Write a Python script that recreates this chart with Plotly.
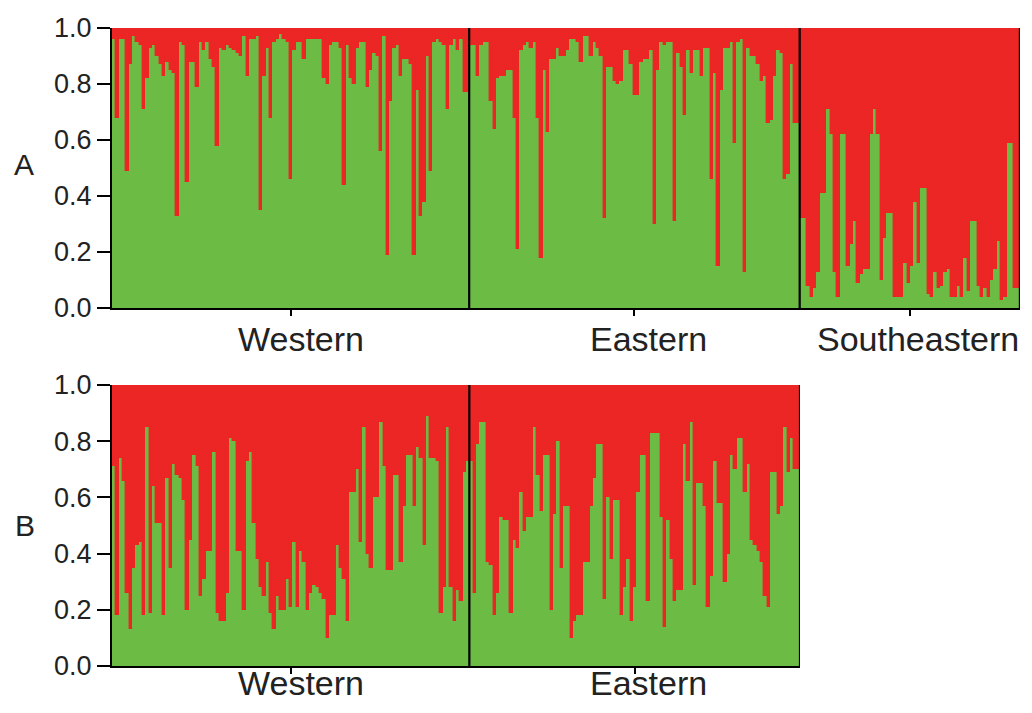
import plotly.graph_objects as go

# ---------------- data: membership coefficient of cluster 1 (green) ----------------
groups_A = ["Western", "Eastern", "Southeastern"]
groups_B = ["Western", "Eastern"]

A_western = [0.96, 0.68, 0.96, 0.96, 0.49, 0.87, 0.97, 0.95, 0.94, 0.71,
             0.82, 0.93, 0.94, 0.90, 0.87, 0.83, 0.88, 0.85, 0.84, 0.33,
             0.95, 0.94, 0.45, 0.88, 0.88, 0.79, 0.95, 0.92, 0.95, 0.89,
             0.86, 0.58, 0.93, 0.92, 0.94, 0.93, 0.92, 0.91, 0.90, 0.97,
             0.83, 0.96, 0.96, 0.97, 0.35, 0.83, 0.93, 0.68, 0.95, 0.96,
             0.98, 0.96, 0.95,
             0.46, 0.92, 0.95, 0.95, 0.89, 0.96, 0.96, 0.96, 0.96, 0.96,
             0.82, 0.80, 0.94, 0.95, 0.95, 0.93, 0.44, 0.94, 0.82, 0.80,
             0.93, 0.95, 0.95, 0.79, 0.85, 0.91, 0.90, 0.56, 0.97, 0.19,
             0.74, 0.93, 0.94, 0.83, 0.89, 0.89, 0.87, 0.19, 0.78, 0.33,
             0.38, 0.90, 0.49, 0.95, 0.96, 0.95, 0.94, 0.71, 0.94, 0.96,
             0.92, 0.96, 0.77, 0.77]
A_eastern = [0.94, 0.94, 0.83, 0.94, 0.95, 0.95, 0.74, 0.64, 0.82, 0.83,
             0.83, 0.85, 0.85, 0.68, 0.21, 0.92, 0.94, 0.95, 0.93, 0.95,
             0.68, 0.18, 0.85, 0.63, 0.89, 0.89, 0.93, 0.90, 0.90, 0.92,
             0.96, 0.96, 0.95, 0.88, 0.97, 0.97, 0.90, 0.95, 0.93, 0.90,
             0.32, 0.86, 0.86, 0.81, 0.80, 0.81, 0.92, 0.92, 0.87, 0.76,
             0.76,
             0.88, 0.89, 0.89, 0.92, 0.30, 0.85, 0.95, 0.94, 0.95, 0.95,
             0.31, 0.91, 0.86, 0.69, 0.92, 0.84, 0.92, 0.92, 0.83, 0.93,
             0.93, 0.46, 0.84, 0.15, 0.78, 0.93, 0.93, 0.95, 0.59, 0.95,
             0.96, 0.13, 0.93, 0.90, 0.90, 0.87, 0.81, 0.83, 0.66, 0.67,
             0.83, 0.92, 0.91, 0.46, 0.48, 0.87, 0.66, 0.66]
A_southeastern = [0.32, 0.32, 0.08, 0.04, 0.07, 0.13, 0.41, 0.41, 0.71, 0.62,
                  0.13, 0.04, 0.62, 0.62, 0.15, 0.23, 0.31, 0.09, 0.12, 0.14,
                  0.14, 0.62, 0.71, 0.62, 0.10, 0.25, 0.34, 0.34, 0.04, 0.04,
                  0.04, 0.16, 0.09, 0.15, 0.38, 0.16, 0.43, 0.43, 0.05, 0.04,
                  0.13, 0.07, 0.08, 0.13, 0.14, 0.04, 0.04, 0.08, 0.04, 0.18,
                  0.06, 0.31, 0.31, 0.08, 0.04, 0.07, 0.04, 0.10, 0.14, 0.24,
                  0.03, 0.04, 0.59, 0.59, 0.07, 0.07]

B_western = [0.71, 0.18, 0.74, 0.66, 0.26, 0.13, 0.35, 0.43, 0.44, 0.18,
             0.85, 0.19, 0.64, 0.51, 0.51, 0.18, 0.67, 0.35, 0.72, 0.68,
             0.67, 0.59, 0.20, 0.45, 0.75, 0.71, 0.25, 0.31, 0.41, 0.41,
             0.76, 0.19, 0.16, 0.16, 0.26, 0.81, 0.80, 0.41, 0.41, 0.20,
             0.73, 0.76, 0.51, 0.38, 0.28, 0.25, 0.37, 0.19, 0.13, 0.25,
             0.20, 0.20, 0.31,
             0.21, 0.44, 0.21, 0.41, 0.37, 0.20, 0.26, 0.29, 0.28, 0.26,
             0.24, 0.10, 0.18, 0.18, 0.43, 0.35, 0.31, 0.16, 0.62, 0.62,
             0.70, 0.44, 0.85, 0.40, 0.35, 0.60, 0.60, 0.87, 0.71, 0.34,
             0.34, 0.68, 0.68, 0.37, 0.57, 0.75, 0.75, 0.57, 0.78, 0.74,
             0.43, 0.89, 0.74, 0.74, 0.73, 0.19, 0.28, 0.85, 0.28, 0.16,
             0.27, 0.23, 0.69, 0.73]
B_eastern = [0.73, 0.26, 0.79, 0.87, 0.87, 0.37, 0.36, 0.18, 0.26, 0.53,
             0.52, 0.52, 0.19, 0.45, 0.42, 0.62, 0.48, 0.53, 0.53, 0.85,
             0.68, 0.55, 0.75, 0.75, 0.20, 0.54, 0.80, 0.35, 0.57, 0.57,
             0.10, 0.16, 0.18, 0.18, 0.37, 0.37, 0.57, 0.67, 0.79, 0.79,
             0.24, 0.60, 0.38, 0.59, 0.59, 0.18, 0.28, 0.38, 0.16, 0.28,
             0.62,
             0.75, 0.75, 0.23, 0.83, 0.83, 0.83, 0.53, 0.14, 0.52, 0.38,
             0.23, 0.27, 0.27, 0.79, 0.66, 0.87, 0.29, 0.65, 0.65, 0.57,
             0.21, 0.32, 0.73, 0.58, 0.58, 0.30, 0.40, 0.75, 0.70, 0.81,
             0.81, 0.62, 0.72, 0.45, 0.43, 0.41, 0.37, 0.25, 0.21, 0.69,
             0.69, 0.54, 0.57, 0.85, 0.69, 0.81, 0.70, 0.70]

y_tickvals = [0.0, 0.2, 0.4, 0.6, 0.8, 1.0]
y_ticktext = ["0.0", "0.2", "0.4", "0.6", "0.8", "1.0"]

GREEN = "rgb(108,187,69)"
RED = "rgb(236,38,36)"
FONT = "Liberation Sans, Arial, sans-serif"

# figure is placed inside the page body (8px default margin)
OFF = 8
W, H = 1032 - 2 * OFF, 713 - 2 * OFF


def px_x(p):
    return (p - OFF) / W


def px_y(p):
    return 1 - (p - OFF) / H


fig = go.Figure()


def add_panel(series, xa, ya):
    green = [v for s in series for v in s]
    red = [1 - v for v in green]
    idx = list(range(len(green)))
    fig.add_bar(x=idx, y=green, marker=dict(color=GREEN, line=dict(color=GREEN, width=0.4)),
                xaxis=xa, yaxis=ya, showlegend=False, hoverinfo="skip")
    fig.add_bar(x=idx, y=red, marker=dict(color=RED, line=dict(color=RED, width=0.4)),
                xaxis=xa, yaxis=ya, showlegend=False, hoverinfo="skip")
    bounds = []
    centers = []
    start = 0
    for s in series:
        centers.append(start + (len(s) - 1) / 2)
        start += len(s)
        bounds.append(start - 0.5)
    for b in bounds:
        fig.add_shape(type="line", xref=xa, yref=ya, x0=b, x1=b, y0=0, y1=1,
                      line=dict(color="black", width=2.2))
    return len(green), centers


nA, cA = add_panel([A_western, A_eastern, A_southeastern], "x", "y")
nB, cB = add_panel([B_western, B_eastern], "x2", "y2")

axis_common = dict(showline=True, linecolor="black", linewidth=2.2, showgrid=False,
                   zeroline=False, automargin=False)
ytick_font = dict(size=27, family=FONT, color="#222222")

fig.update_layout(
    width=W, height=H, autosize=False,
    margin=dict(l=0, r=0, t=0, b=0, pad=0, autoexpand=False),
    paper_bgcolor="white", plot_bgcolor="white",
    barmode="stack", bargap=0,
    font=dict(family=FONT, color="#222222"),
    xaxis=dict(domain=[px_x(112), px_x(1020)], range=[-0.5, nA - 0.5], anchor="y",
               tickvals=cA, ticktext=["", "", ""], ticks="outside", ticklen=6, tickwidth=1.5,
               tickcolor="black", **axis_common),
    yaxis=dict(domain=[px_y(308), px_y(28)], range=[0, 1], anchor="x",
               tickvals=y_tickvals, ticktext=y_ticktext, ticks="outside", ticklen=13,
               tickwidth=2.2, tickcolor="black", tickfont=ytick_font, **axis_common),
    xaxis2=dict(domain=[px_x(112), px_x(800)], range=[-0.5, nB - 0.5], anchor="y2",
                tickvals=cB, ticktext=["", ""], ticks="outside", ticklen=6, tickwidth=1.5,
                tickcolor="black", **axis_common),
    yaxis2=dict(domain=[px_y(666), px_y(385)], range=[0, 1], anchor="x2",
                tickvals=y_tickvals, ticktext=y_ticktext, ticks="outside", ticklen=13,
                tickwidth=2.2, tickcolor="black", tickfont=ytick_font, **axis_common),
)

fig.add_shape(type="line", xref="x", yref="y", x0=nA - 0.5, x1=nA - 0.5, y0=0, y1=1,
              line=dict(color="black", width=2.2))

label_font = dict(family=FONT, size=34, color="#222222")
for name, xc in zip(groups_A, [301, 648, 918]):
    fig.add_annotation(text=name, xref="paper", yref="paper", x=px_x(xc), y=px_y(339),
                       xanchor="center", yanchor="middle", showarrow=False, font=label_font)
for name, xc in zip(groups_B, [301, 648]):
    fig.add_annotation(text=name, xref="paper", yref="paper", x=px_x(xc), y=H / H - (H - 1) / H,
                       xanchor="center", yanchor="bottom", showarrow=False, font=label_font)

panel_font = dict(family=FONT, size=30, color="#222222")
fig.add_annotation(text="A", xref="paper", yref="paper", x=px_x(24), y=px_y(165),
                   xanchor="center", yanchor="middle", showarrow=False, font=panel_font)
fig.add_annotation(text="B", xref="paper", yref="paper", x=px_x(25), y=px_y(525),
                   xanchor="center", yanchor="middle", showarrow=False, font=panel_font)

fig.write_html("out.html")
